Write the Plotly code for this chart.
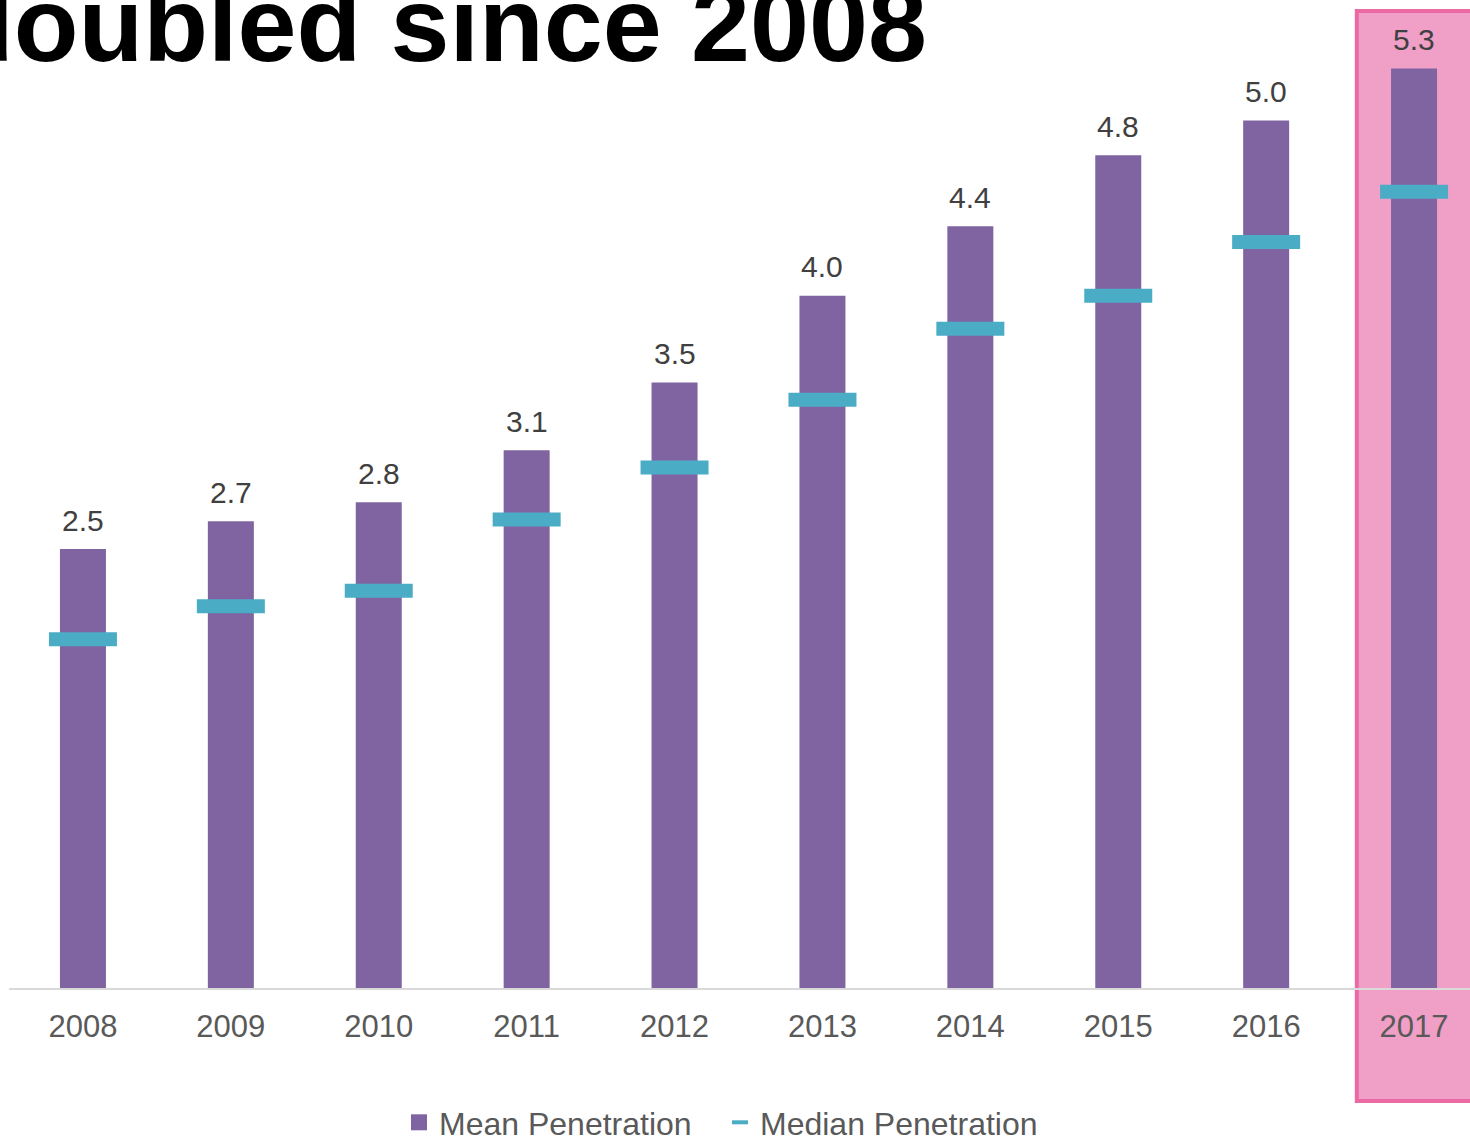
import plotly.graph_objects as go

years = ["2008", "2009", "2010", "2011", "2012", "2013", "2014", "2015", "2016", "2017"]
mean_pen = [2.53, 2.69, 2.80, 3.10, 3.49, 3.99, 4.39, 4.80, 5.00, 5.30]
mean_labels = ["2.5", "2.7", "2.8", "3.1", "3.5", "4.0", "4.4", "4.8", "5.0", "5.3"]
median_pen = [2.01, 2.20, 2.29, 2.70, 3.00, 3.39, 3.80, 3.99, 4.30, 4.59]
highlight_year_index = 9

W, H = 1470, 1138
L, R, T, B = 9, 0, 0, 150
plot_h = H - T - B
plot_w = W - L - R
px_per_unit = 173.5
step = 147.9

def py(pix):
    return (plot_h - (pix - T)) / plot_h

def pxp(pix):
    return (pix - L) / plot_w

FONT = "Liberation Sans, Arial, sans-serif"
PURPLE = "#8064A2"
TEAL = "#4BACC6"

fig = go.Figure()
fig.add_trace(go.Bar(
    x=years, y=mean_pen, name="Mean Penetration", showlegend=False,
    marker=dict(color=PURPLE, line=dict(width=0)),
))
fig.add_trace(go.Scatter(
    x=years, y=median_pen, name="Median Penetration", mode="markers", showlegend=False,
    marker=dict(symbol="line-ew", size=68 / 1.4, color=TEAL,
                line=dict(width=14, color=TEAL)),
    cliponaxis=False,
))
# legend entries
fig.add_trace(go.Scatter(
    x=[None], y=[None], name="Mean Penetration", mode="markers",
    marker=dict(symbol="square", size=16, color=PURPLE),
))
fig.add_trace(go.Scatter(
    x=[None], y=[None], name="Median Penetration", mode="markers",
    marker=dict(symbol="line-ew", size=16 / 1.4, color=TEAL, line=dict(width=4, color=TEAL)),
))

for i, (v, lab) in enumerate(zip(mean_pen, mean_labels)):
    fig.add_annotation(x=i, y=v, text=lab, xref="x", yref="y", showarrow=False,
                       yanchor="middle", yshift=29,
                       font=dict(size=30, color="#404040", family=FONT))

# highlight box around the last year
fig.add_shape(type="rect", layer="below",
              xref="x", yref="paper",
              x0=highlight_year_index - 0.387, x1=highlight_year_index + 1.2,
              y0=py(1101), y1=py(11),
              fillcolor="#F09FC6", line=dict(color="#EA6AA4", width=4))

fig.add_annotation(text="<b>doubled since 2008</b>", xref="paper", yref="paper",
                   x=pxp(929), y=py(24), xanchor="right", yanchor="middle",
                   showarrow=False, font=dict(size=106, color="#000000", family=FONT))

fig.update_layout(
    width=W, height=H,
    margin=dict(l=L, r=R, t=T, b=B, pad=0, autoexpand=False),
    paper_bgcolor="white", plot_bgcolor="rgba(0,0,0,0)",
    bargap=1 - 46 / step,
    font=dict(family=FONT, color="#595959"),
    showlegend=True,
    legend=dict(orientation="h", x=pxp(399), xanchor="left", y=py(1095), yanchor="top",
                font=dict(size=32, color="#595959", family=FONT),
                itemsizing="trace", traceorder="normal", entrywidth=276,
                bgcolor="rgba(0,0,0,0)"),
    xaxis=dict(type="category", range=[-0.5, -0.5 + plot_w / step],
               showline=True, linecolor="#D9D9D9", linewidth=2,
               ticks="outside", ticklen=10, tickcolor="rgba(0,0,0,0)",
               tickfont=dict(size=31, color="#595959", family=FONT),
               showgrid=False, zeroline=False, layer="above traces"),
    yaxis=dict(range=[0, plot_h / px_per_unit], visible=False, showgrid=False,
               zeroline=False),
)

fig.write_html("out.html", config={"displayModeBar": False},
               post_script="document.body.style.margin='0';document.body.style.overflow='hidden';")
